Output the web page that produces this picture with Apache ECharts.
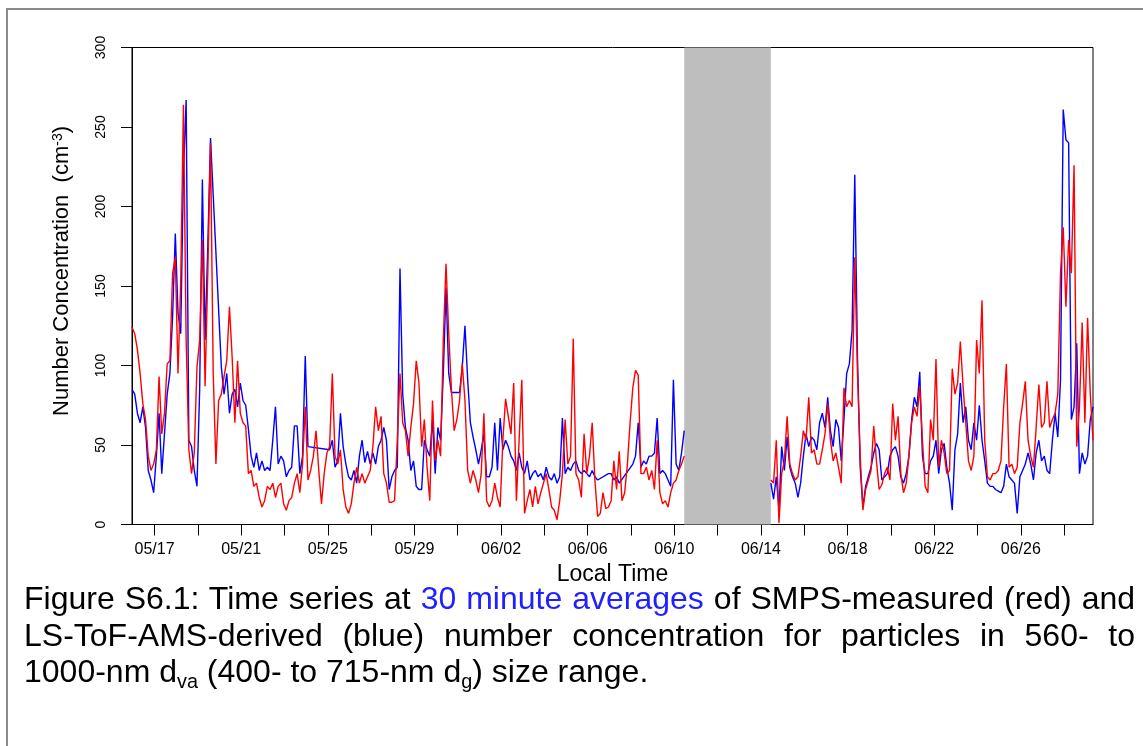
<!DOCTYPE html>
<html>
<head>
<meta charset="utf-8">
<script src="https://cdn.jsdelivr.net/npm/echarts@6/dist/echarts.min.js"></script>
<style>
  html, body { margin: 0; padding: 0; background: #fff; }
  #wrap { position: relative; width: 1143px; height: 746px; overflow: hidden; background: #fff; }
  #frame { position: absolute; left: 6px; top: 8px; width: 1300px; height: 900px;
           border-top: 2px solid #8a8a8a; border-left: 2px solid #8a8a8a; }
  #chart { position: absolute; left: 0; top: 0; width: 1143px; height: 746px; }
  #caption { position: absolute; left: 24px; top: 580px; width: 1111px;
             font-family: 'Liberation Sans', Arial, sans-serif; font-size: 32px;
             line-height: 36.5px; color: #000; }
  #caption div { text-align: justify; text-align-last: justify; white-space: nowrap; }
  #caption div.last { text-align: left; text-align-last: left; }
  #caption .hl { color: #1f1fff; }
  #caption sub { font-size: 0.62em; vertical-align: -0.28em; line-height: 0; }
</style>
</head>
<body>
<div id="wrap">
  <div id="frame"></div>
  <div id="chart"></div>
  <div id="caption">
    <div>Figure S6.1: Time series at <span class="hl">30 minute averages</span> of SMPS-measured (red) and</div>
    <div>LS-ToF-AMS-derived (blue) number concentration for particles in 560- to</div>
    <div class="last">1000-nm d<sub>va</sub> (400- to 715-nm d<sub>g</sub>) size range.</div>
  </div>
</div>
<script>
// Measurement periods (UTC clock used only as a neutral calendar), 3-hourly samples
const YEAR = 2010;
const periodA = { start: [5, 15, 23], stepHours: 3 };   // 05/15 23:00 -> 06/10 11:00
const periodB = { start: [6, 14, 11], stepHours: 3 };   // 06/14 11:00 -> 06/29 08:00
const axisRange = { start: [5, 15, 23], end: [6, 29, 8] };
const instrumentGap = { start: [6, 10, 11], end: [6, 14, 11] };

// Tick marks every two days, labels every four days
const tickDays = ['05/17','05/19','05/21','05/23','05/25','05/27','05/29','05/31',
                  '06/02','06/04','06/06','06/08','06/10','06/12','06/14','06/16',
                  '06/18','06/20','06/22','06/24','06/26','06/28'];
const tickLabels = ['05/17','05/21','05/25','05/29','06/02','06/06','06/10',
                    '06/14','06/18','06/22','06/26'];

// SMPS-measured number concentration (cm^-3), first period
const smpsA = [124,120,110,95,76,66,43,34,38,47,
  93,57,70,101,103,158,168,95,153,264,
  116,47,32,45,99,116,179,87,158,240,
  95,38,78,82,93,103,137,105,64,103,
  70,64,62,32,34,24,26,17,11,15,
  24,22,26,17,24,26,13,9,15,17,
  26,32,20,38,74,28,34,43,59,34,
  13,32,45,49,95,43,38,47,22,11,
  7,13,26,36,26,32,26,30,34,49,
  74,59,68,32,26,14,14,15,53,95,
  64,59,43,61,76,103,89,49,66,36,
  15,78,40,53,43,116,164,120,85,59,
  66,78,101,78,34,26,34,28,20,32,
  70,15,11,15,26,17,11,53,79,68,
  57,89,15,53,91,7,15,22,11,24,
  13,20,26,32,22,11,9,3,15,32,
  66,38,43,117,32,28,17,57,32,43,
  64,28,5,7,20,10,11,15,40,22,
  46,15,20,38,64,86,97,94,32,32,
  36,28,34,22,53,20,13,15,11,20,
  26,28,34,38,43];

// LS-ToF-AMS-derived number concentration (cm^-3), first period (null = no data)
const amsA = [85,82,70,64,74,61,34,28,20,43,
  70,32,57,82,95,131,183,133,120,221,
  267,53,49,34,24,85,217,116,175,243,
  null,null,null,99,82,95,70,82,85,74,
  89,78,75,60,43,36,45,34,40,34,
  36,34,53,74,38,43,40,30,34,36,
  62,62,32,43,106,49,null,null,null,null,
  null,null,null,47,53,36,40,70,49,38,
  30,28,34,26,43,53,39,46,38,45,
  38,49,53,61,53,22,30,34,36,161,
  82,61,53,34,40,24,22,22,53,47,
  43,66,32,61,53,95,149,95,83,null,
  null,83,99,125,91,64,55,47,38,47,
  57,30,30,36,64,34,67,47,53,49,
  43,40,34,45,36,32,40,28,32,34,
  30,32,28,36,30,28,32,26,30,67,
  32,36,34,38,40,34,32,34,32,30,
  34,30,28,null,null,null,32,32,28,30,
  26,null,null,null,null,38,43,64,36,40,
  38,43,43,45,67,32,34,32,28,24,
  91,38,34,45,59];

// SMPS-measured, second period
const smpsB = [28,26,53,1,32,40,68,38,32,28,
  30,43,59,53,80,45,47,38,38,47,
  57,76,53,40,45,36,26,86,74,78,
  74,168,95,43,9,22,28,34,62,40,
  22,25,32,36,28,76,53,68,32,20,
  26,43,64,74,68,87,53,24,20,66,
  53,104,36,53,45,32,34,98,82,89,
  115,87,64,40,34,43,116,95,141,53,
  30,28,32,32,34,40,74,101,36,38,
  32,36,64,76,90,53,43,36,61,88,
  61,64,90,61,66,70,82,158,187,137,
  179,158,226,49,74,127,64,130,82,53];

// LS-ToF-AMS-derived, second period
const amsB = [26,16,30,9,49,34,55,36,30,26,
  17,26,43,57,49,55,53,47,64,70,
  61,80,59,49,66,61,40,66,95,101,
  122,220,105,36,11,24,30,36,45,51,
  47,28,30,32,43,47,49,43,30,26,
  32,43,66,80,74,96,43,32,32,40,
  43,53,32,47,51,36,26,9,47,57,
  89,64,74,53,47,64,53,75,53,40,
  26,24,24,22,21,20,24,38,30,28,
  26,7,30,34,38,45,38,28,45,53,
  40,43,34,32,53,70,55,91,261,242,
  240,66,74,114,32,45,38,43,66,74];

const FONT = "'Liberation Sans', Arial, Helvetica, sans-serif";
const HOUR = 3600 * 1000;
const stamp = (m, d, h) => Date.UTC(YEAR, m - 1, d, h || 0);
const fromMD = s => { const [m, d] = s.split('/').map(Number); return stamp(m, d, 0); };
const pad = n => (n < 10 ? '0' : '') + n;
const fmtDate = v => { const d = new Date(v); return pad(d.getUTCMonth() + 1) + '/' + pad(d.getUTCDate()); };

function toPairs(values, period) {
  const t0 = stamp(...period.start);
  return values.map((v, i) => [t0 + i * period.stepHours * HOUR, v]);
}

const chart = echarts.init(document.getElementById('chart'), null, { renderer: 'canvas' });

const lineBase = { type: 'line', showSymbol: false, symbol: 'none', connectNulls: true,
                   sampling: null, silent: true };

chart.setOption({
  animation: false,
  backgroundColor: 'transparent',
  grid: { left: 132, top: 47.5, width: 961, height: 477, show: true,
          borderColor: '#000', borderWidth: 1, backgroundColor: 'transparent' },
  xAxis: {
    type: 'value',
    min: stamp(...axisRange.start), max: stamp(...axisRange.end),
    axisLine: { show: true, onZero: false, lineStyle: { color: '#000', width: 1 } },
    axisTick: { show: true, length: 11, customValues: tickDays.map(fromMD),
                lineStyle: { color: '#000', width: 1 } },
    axisLabel: { customValues: tickLabels.map(fromMD), formatter: fmtDate, margin: 17,
                 color: '#000', fontSize: 16, fontFamily: FONT },
    splitLine: { show: false },
    name: 'Local Time', nameLocation: 'middle', nameGap: 39,
    nameTextStyle: { fontSize: 23, color: '#000', fontFamily: FONT }
  },
  yAxis: {
    type: 'value', min: 0, max: 300, interval: 50,
    axisLine: { show: true, lineStyle: { color: '#000', width: 1 } },
    axisTick: { show: true, length: 11, lineStyle: { color: '#000', width: 1 } },
    axisLabel: { rotate: 90, margin: 24, color: '#000', fontSize: 14, fontFamily: FONT },
    splitLine: { show: false },
    name: '{t|Number Concentration  (cm}{s|-3}{t|)}',
    nameLocation: 'middle', nameGap: 59, nameRotate: 90,
    nameTextStyle: {
      padding: [0, 0, 0, 30],
      rich: {
        t: { fontSize: 22, color: '#000', fontFamily: FONT },
        s: { fontSize: 14, color: '#000', fontFamily: FONT, verticalAlign: 'top' }
      }
    }
  },
  series: [
    Object.assign({}, lineBase, {
      name: 'LS-ToF-AMS', data: toPairs(amsA, periodA), z: 2,
      lineStyle: { color: '#0000ff', width: 1.4 },
      markArea: { silent: true, itemStyle: { color: '#bebebe', opacity: 1 },
                  data: [[{ xAxis: stamp(...instrumentGap.start) }, { xAxis: stamp(...instrumentGap.end) }]] }
    }),
    Object.assign({}, lineBase, {
      name: 'LS-ToF-AMS', data: toPairs(amsB, periodB), z: 2,
      lineStyle: { color: '#0000ff', width: 1.4 }
    }),
    Object.assign({}, lineBase, {
      name: 'SMPS', data: toPairs(smpsA, periodA), z: 3,
      lineStyle: { color: '#ff0000', width: 1.4 }
    }),
    Object.assign({}, lineBase, {
      name: 'SMPS', data: toPairs(smpsB, periodB), z: 3,
      lineStyle: { color: '#ff0000', width: 1.4 }
    })
  ]
});
</script>
</body>
</html>
